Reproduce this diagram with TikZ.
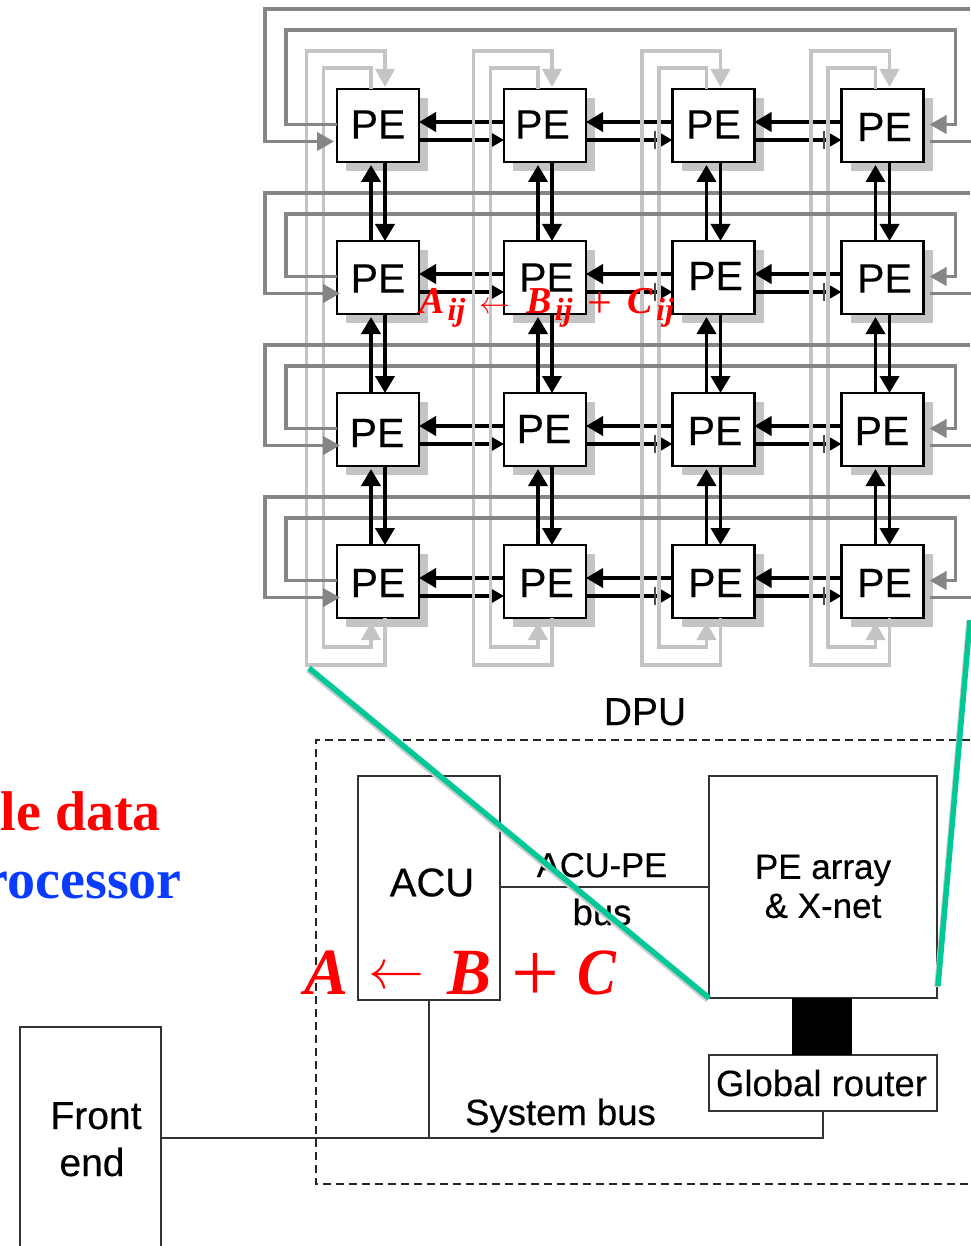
\documentclass[tikz,border=0pt]{standalone}
\usepackage{fontspec}
\setmainfont{Liberation Serif}
\setsansfont{Liberation Sans}[FakeBold=0.35]
\usetikzlibrary{arrows.meta,shadows}

\newcommand{\fsz}[1]{\fontsize{#1}{#1}\selectfont}
\newcommand{\subij}{\hspace{3pt}\raisebox{-7pt}{\fsz{32}\textbf{\textit{ij}}}}
\definecolor{colgray}{HTML}{C4C4C4}
\definecolor{rowgray}{HTML}{868686}
\definecolor{linkgreen}{HTML}{00C896}
\definecolor{procblue}{HTML}{0A3CFF}

\tikzset{
	pebox/.style={draw=black,fill=white,line width=2.4pt,minimum width=82pt,minimum height=73pt,
		inner sep=0pt,outer sep=0pt,general shadow={fill=colgray,shadow xshift=9pt,shadow yshift=-9pt}},
	petext/.style={font=\sffamily\fsz{41},inner sep=0pt},
	thinbox/.style={draw=black!80,fill=white,line width=2.2pt,inner sep=0pt,outer sep=0pt},
	thinline/.style={draw=black!80,line width=2.2pt},
	boxtext/.style={font=\sffamily\fsz{#1},inner sep=0pt},
	blackline/.style={draw=black,line width=3.8pt},
	bigtip/.style={-{Triangle[length=17pt,width=19pt]}},
	smalltip/.style={-{Triangle[length=13pt,width=14pt]}},
	colline/.style={draw=colgray,line width=3.8pt,-{Triangle[length=18pt,width=19pt]}},
	rowline/.style={draw=rowgray,line width=3.8pt},
	rowtip/.style={-{Triangle[length=17pt,width=18pt]}},
	greenline/.style={draw=linkgreen,line width=5.5pt},
	greenshadow/.style={draw=black!20,line width=5.5pt},
	redmath/.style={text=red,inner sep=0pt,anchor=base west},
}

\begin{document}
\begin{tikzpicture}[x=1pt,y=-1pt]
	\useasboundingbox (0,0) rectangle (970,1246);

	% PE array
	\foreach \r/\c/\px/\py/\dx/\dy in {
		1/1/378/125.5/0/1, 1/2/545/125.5/-2.5/1, 1/3/713.5/125.5/0/1, 1/4/882.5/125.5/2/-1.5,
		2/1/378/277.5/0/-1, 2/2/545/277.5/1.5/0, 2/3/713.5/277.5/2/1.5, 2/4/882.5/277.5/2/-1,
		3/1/378/429.5/-1/-3.5, 3/2/545/429.5/-1/0.5, 3/3/713.5/429.5/1.5/-1.5, 3/4/882.5/429.5/-0.5/-1.5,
		4/1/378/581.5/0/-1.5, 4/2/545/581.5/1.5/-1.5, 4/3/713.5/581.5/2/-1.5, 4/4/882.5/581.5/2/-1.5} {
		\node[pebox,label={[petext,xshift=\dx pt,yshift=\dy pt]center:PE}] (pe\r\c) at (\px,\py) {};
	}

	% Links between neighbours in a row
	\foreach \r in {1,2,3,4} {
		\foreach \c/\n in {1/2,2/3,3/4} {
			\draw[blackline,bigtip] ([yshift=3.5pt]pe\r\n.west) -- ([yshift=3.5pt]pe\r\c.east);
			\draw[blackline,line width=3.2pt,smalltip] ([yshift=-14.5pt]pe\r\c.east) -- ([yshift=-14.5pt]pe\r\n.west);
		}
		\foreach \c in {3,4} {
			\draw[black!70,line width=2pt] ([xshift=-18pt,yshift=-5.5pt]pe\r\c.west) -- ([xshift=-18pt,yshift=-23.5pt]pe\r\c.west);
		}
	}

	% Column wrap-around
	\foreach \c in {1,2,3,4} {
		\draw[colline] ([xshift=7pt]pe4\c.south) -- ++(0,47) -- ++(-78.5,0) -- ++(0,-614) -- ++(78.5,0) -- ([xshift=7pt,yshift=2pt]pe1\c.north);
		\draw[colline] ([xshift=-7pt]pe1\c.north) -- ++(0,-21) -- ++(-47.5,0) -- ++(0,579) -- ++(47.5,0) -- ([xshift=-7pt,yshift=-4pt]pe4\c.south);
	}

	% Row wrap-around
	\foreach \r/\ot/\it/\tipx in {1/9/30/-3,2/193/214/3,3/345/366/3,4/497/518/3} {
		\draw[rowline,rowtip] (970,\ot) -| ([xshift=-72pt,yshift=-16pt]pe\r1.west) -- ([xshift=\tipx pt,yshift=-16pt]pe\r1.west);
		\draw[rowline,rowtip] ([yshift=1pt]pe\r1.west) -| (286,\it) -| ([xshift=32pt,yshift=1pt]pe\r4.east) -- ([xshift=6pt,yshift=1pt]pe\r4.east);
		\draw[rowline] ([xshift=6pt,yshift=-16pt]pe\r4.east) -- ++(41,0);
	}

	% Links between neighbours in a column
	\foreach \c in {1,2,3,4} {
		\foreach \r/\n in {1/2,2/3,3/4} {
			\draw[blackline,bigtip] ([xshift=-7pt]pe\n\c.north) -- ([xshift=-7pt,yshift=-3pt]pe\r\c.south);
			\draw[blackline,bigtip] ([xshift=7pt]pe\r\c.south) -- ([xshift=7pt]pe\n\c.north);
		}
	}
	\node[redmath,font=\fsz{38}] (eqij) at (419,313) {\textbf{\textit{A}}\subij\hspace{14pt}\resizebox{31pt}{!}{$\leftarrow$}\hspace{16pt}\textbf{\textit{B}}\subij\hspace{15pt}\raisebox{-4pt}{\fsz{44}+}\hspace{15pt}\textbf{\textit{C}}\subij};

	% DPU
	\node[boxtext=39,anchor=base] (dpu) at (645,725) {DPU};
	\coordinate (rimtop) at (970,740);
	\coordinate (rimbot) at (970,1184);
	\draw[black!85,line width=1.8pt,dash pattern=on 8pt off 5pt] (rimtop) -| (316,1184) -- (rimbot);

	\node[thinbox,minimum width=142pt,minimum height=224pt,label={[boxtext=40,xshift=3pt,yshift=5.5pt]center:ACU}] (acu) at (429,888) {};
	\node[thinbox,minimum width=228pt,minimum height=222pt] (pearray) at (823,887) {};
	\node[boxtext=35,align=center] (pearraytext) at (823,886.5) {PE array\\[4pt]\& X-net};
	\node[thinbox,minimum width=228pt,minimum height=56pt,label={[boxtext=36.5,xshift=-1.5pt]center:Global router}] (router) at (823,1083) {};
	\node[thinbox,minimum width=141pt,minimum height=222pt] (front) at (90.5,1138) {};
	\node[boxtext=39,anchor=base] (fronttext) at (96,1129) {Front};
	\node[boxtext=39,anchor=base] (endtext) at (92,1176) {end};

	\draw[line width=60pt] ([xshift=-1pt]pearray.south) -- ([xshift=-1pt]router.north);
	\draw[thinline] (pearray.west) -- (pearray.west -| acu.east);
	\draw[thinline] (front.east) -| (router.south);
	\draw[thinline] (acu.south) -- (acu.south |- front.east);

	\node[boxtext=34.5,anchor=base] (acupe) at (602,877) {ACU-PE};
	\node[boxtext=36.5,anchor=base] (bus) at (602,925) {bus};
	\node[boxtext=36.5,anchor=base] (sysbus) at (560.5,1125) {System bus};

	% Zoom lines
	\coordinate (zoomla) at (309,668);
	\coordinate (zoomlb) at (709,998);
	\coordinate (zoomra) at (970,620);
	\coordinate (zoomrb) at (938,986);
	\draw[greenshadow] ([xshift=-1pt,yshift=-2pt]zoomla) -- ([xshift=-1pt,yshift=-2pt]zoomlb);
	\draw[greenshadow] ([xshift=-1pt,yshift=-1pt]zoomra) -- ([xshift=-1pt,yshift=-1pt]zoomrb);
	\draw[greenline] (zoomla) -- (zoomlb);
	\draw[greenline] (zoomra) -- (zoomrb);

	% Labels over the picture
	\node[text=red,inner sep=0pt,anchor=base east,font=\bfseries\fsz{56}] (singletext) at (161,830) {le data};
	\node[text=procblue,inner sep=0pt,anchor=base east,font=\bfseries\fsz{56}] (proctext) at (182,898) {rocessor};
	\node[redmath,font=\fsz{66}] (eqtop) at (304,994) {\textbf{\textit{A}}\hspace{20pt}\raisebox{6pt}{\resizebox{56pt}{!}{$\leftarrow$}}\hspace{23pt}\textbf{\textit{B}}\hspace{20pt}\raisebox{-7pt}{\fsz{85}+}\hspace{18pt}\scalebox{.88}[1]{\textbf{\textit{C}}}};
\end{tikzpicture}
\end{document}
